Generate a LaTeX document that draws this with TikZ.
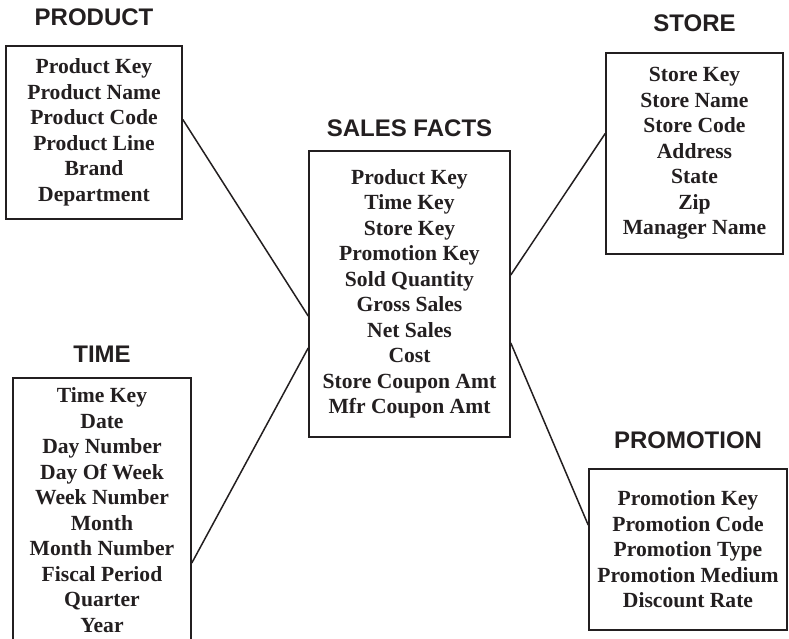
\documentclass[tikz,border=0pt]{standalone}
\usepackage{fontspec}
\setmainfont{Liberation Serif}
\newfontfamily\headfont{Liberation Sans}
\usetikzlibrary{positioning}
\definecolor{inkdark}{RGB}{35, 31, 32}

\begin{document}
\begin{tikzpicture}[
      x=1pt, y=1pt,
      tbl/.style={draw=inkdark, line width=1.6pt, align=center, text=inkdark,
        font=\fontsize{21.6}{25.5}\selectfont\bfseries},
      ttl/.style={inner sep=0pt, text=inkdark, font=\headfont\fontsize{24}{28}\selectfont\bfseries},
      link/.style={draw=inkdark, line width=1.5pt},
    ]
    \useasboundingbox (0,0) rectangle (789,638);
    % Tables
    \node[tbl, minimum width=201pt, minimum height=286pt] (sales) at (409.5,344)
      {Product Key\\Time Key\\Store Key\\Promotion Key\\Sold Quantity\\Gross Sales\\Net Sales\\Cost\\Store Coupon Amt\\Mfr Coupon Amt};
    \node[tbl, minimum width=176pt, minimum height=173pt] (product) at (94,505.5)
      {Product Key\\Product Name\\Product Code\\Product Line\\Brand\\Department};
    \node[tbl, minimum width=177pt, minimum height=201pt] (store) at (694.5,484.5)
      {Store Key\\Store Name\\Store Code\\Address\\State\\Zip\\Manager Name};
    \node[tbl, minimum width=178pt, minimum height=264pt] (time) at (102,128)
      {Time Key\\Date\\Day Number\\Day Of Week\\Week Number\\Month\\Month Number\\Fiscal Period\\Quarter\\Year};
    \node[tbl, minimum width=198pt, minimum height=161pt] (promo) at (688,88.5)
      {Promotion Key\\Promotion Code\\Promotion Type\\Promotion Medium\\Discount Rate};
    % Titles
    \node[ttl, above=13pt of sales] (salesttl) {SALES FACTS};
    \node[ttl, above=19pt of product] (productttl) {PRODUCT};
    \node[ttl, above=20pt of store] (storettl) {STORE};
    \node[ttl, above=15pt of time] (timettl) {TIME};
    \node[ttl, above=19pt of promo] (promottl) {PROMOTION};
    % Links
    \draw[link] ([yshift=13pt]product.east) -- ([yshift=-22pt]sales.west);
    \draw[link] ([yshift=-53pt]time.east) -- ([yshift=-54pt]sales.west);
    \draw[link] ([yshift=20pt]store.west) -- ([yshift=19pt]sales.east);
    \draw[link] ([yshift=-49pt]sales.east) -- ([yshift=24.5pt]promo.west);
  \end{tikzpicture}
\end{document}
